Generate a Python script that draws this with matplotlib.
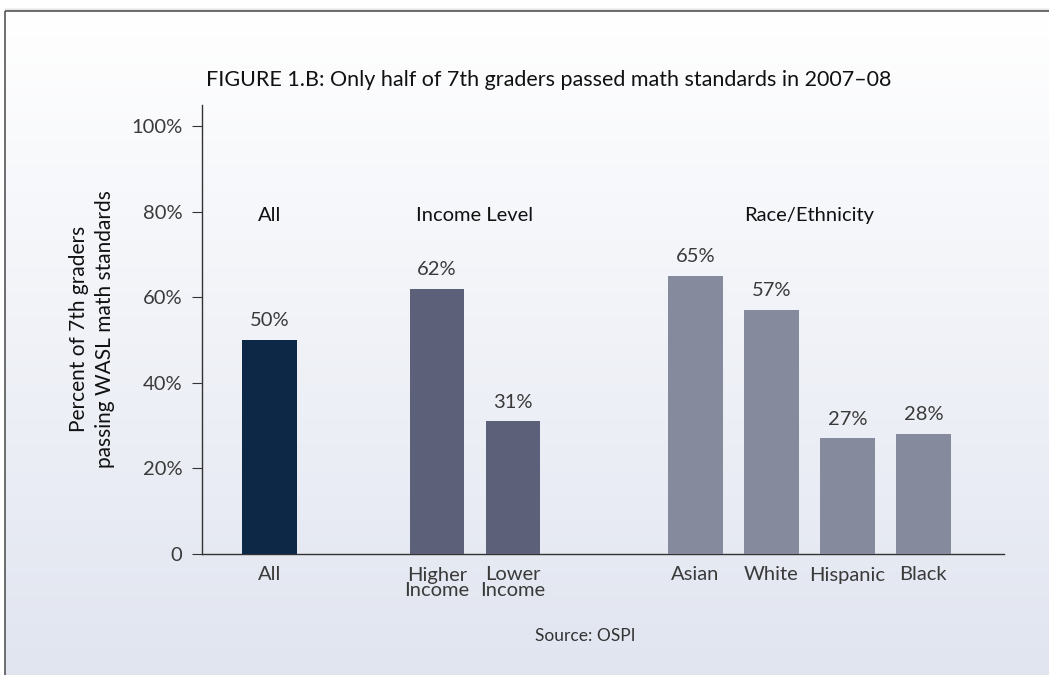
import numpy as np
import matplotlib.pyplot as plt
from matplotlib.patches import Rectangle

plt.rcParams["font.family"] = ["Lato", "DejaVu Sans"]

# data
categories = ["All", "Higher\nIncome", "Lower\nIncome", "Asian", "White", "Hispanic", "Black"]
values = [50, 62, 31, 65, 57, 27, 28]
positions = [0, 2.2, 3.2, 5.6, 6.6, 7.6, 8.6]
bar_colors = ["#0d2846", "#5c6179", "#5c6179", "#868a9d", "#868a9d", "#868a9d", "#868a9d"]
group_names = ["All", "Income Level", "Race/Ethnicity"]
group_x = [0, 2.7, 7.1]
yticks = [0, 20, 40, 60, 80, 100]
ytick_labels = ["0", "20%", "40%", "60%", "80%", "100%"]

W, H = 1049, 675
fig = plt.figure(figsize=(W / 100, H / 100), dpi=100)

# background with gradient panel and frame
bg = fig.add_axes([0, 0, 1, 1])
bg.set_xlim(0, W)
bg.set_ylim(H, 0)
bg.axis("off")
grad = np.linspace(0, 1, 256)[:, None]
top = np.array([1.0, 1.0, 1.0])
bot = np.array([0.882, 0.898, 0.941])
img = top + (bot - top) * grad[..., None]
img = np.repeat(img, 2, axis=1)
bg.imshow(img, extent=[5, W + 5, H, 11], aspect="auto", zorder=0)
# soft shadow above frame
for i, a in enumerate([0.04, 0.07, 0.11]):
    bg.plot([5, W], [8 + i, 8 + i], color="black", alpha=a, lw=1, zorder=1)
bg.add_patch(Rectangle((5, 11), W, H, fill=False, ec="#555555", lw=1.2, zorder=2))

ax = fig.add_axes([202 / W, 1 - 554 / H, (1004 - 202) / W, (554 - 104.6) / H])
ax.patch.set_alpha(0)
ax.bar(positions, values, width=0.72, color=bar_colors, zorder=3)
ax.set_xlim(-0.89, 9.66)
ax.set_ylim(0, 105)

for s in ["top", "right"]:
    ax.spines[s].set_visible(False)
for s in ["left", "bottom"]:
    ax.spines[s].set_color("#333333")
    ax.spines[s].set_linewidth(1.0)

ax.set_yticks(yticks)
ax.set_yticklabels(ytick_labels)
ax.tick_params(axis="y", length=7, width=0.8, color="#333333", pad=7,
               labelsize=14.5, labelcolor="#3a3a3a")
ax.set_xticks(positions)
ax.set_xticklabels(categories, linespacing=0.9)
ax.tick_params(axis="x", length=0, pad=9, labelsize=14.5, labelcolor="#3a3a3a")

for x, v in zip(positions, values):
    ax.text(x, v + 2.5, f"{v}%", ha="center", va="bottom", fontsize=14.5, color="#3a3a3a")

for x, name in zip(group_x, group_names):
    ax.text(x, 79, name, ha="center", va="center", fontsize=14.5, color="#111111")

ax.set_ylabel("Percent of 7th graders\npassing WASL math standards", fontsize=15,
              color="#111111", labelpad=12, linespacing=1.35)

fig.text(549 / W, 1 - 80 / H,
         "FIGURE 1.B: Only half of 7th graders passed math standards in 2007\u201308",
         ha="center", va="center", fontsize=15.5, color="#111111")
fig.text(585 / W, 1 - 636 / H, "Source: OSPI", ha="center", va="center",
         fontsize=12.5, color="#333333")

fig.savefig("out.png", dpi=100)
